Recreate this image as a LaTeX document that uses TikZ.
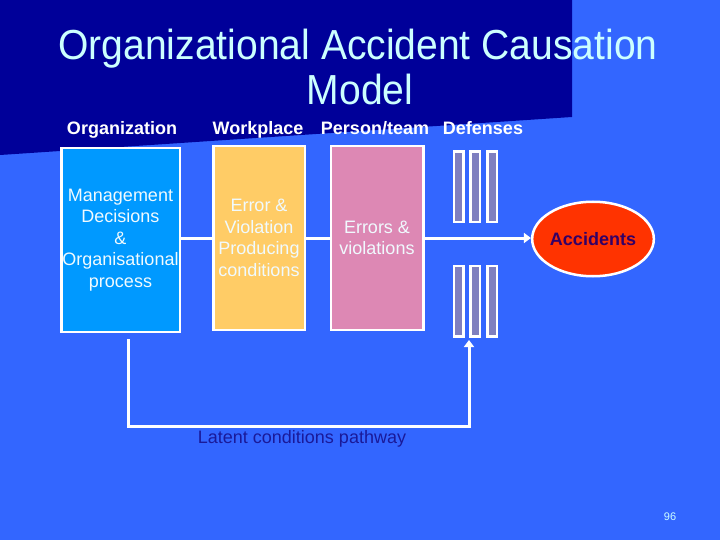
\documentclass[tikz,border=0pt]{standalone}
\usepackage{fontspec}
\setmainfont{Liberation Sans}
\usetikzlibrary{arrows.meta,shapes.geometric}
\definecolor{bgblue}{HTML}{3366FF}
\definecolor{navy}{HTML}{000099}
\definecolor{titlecol}{HTML}{CCFFFF}
\definecolor{orgblue}{HTML}{0099FF}
\definecolor{workorange}{HTML}{FFCC66}
\definecolor{perspink}{HTML}{DD88B4}
\definecolor{defcol}{HTML}{7F7FBF}
\definecolor{accred}{HTML}{FF3300}
\definecolor{acctext}{HTML}{330066}
\definecolor{latcol}{HTML}{1A1A99}
\tikzset{
  titletext/.style={anchor=base, text=titlecol, inner sep=0, font=\fontsize{42}{46}\selectfont},
  header/.style={anchor=base, text=white, inner sep=0, font=\bfseries\fontsize{18}{21.6}\selectfont},
  stagebox/.style={draw=white, line width=2.5pt, inner sep=0, align=center, text=white!94!cyan,
    font=\fontsize{18}{21.6}\selectfont, minimum height=183.5},
  defbar/.style={draw=white, line width=2.5pt, fill=defcol, inner sep=0, minimum width=9.5, minimum height=70.5},
  wline/.style={draw=white, line width=3pt},
  warrow/.style={wline, -{Triangle[width=10pt,length=7pt]}}
}
\begin{document}
\begin{tikzpicture}[x=1pt,y=-1pt]
\useasboundingbox (0,0) rectangle (720,540);
\fill[bgblue] (0,0) rectangle (720,540);
\fill[navy] (0,0) -- (572,0) -- (572,117) -- (0,155) -- cycle;
% title
\node[titletext] (title1) at (358,60) {\scalebox{0.93}[1]{Organizational Accident Causation}};
\node[titletext] (title2) at (360,105) {\scalebox{0.93}[1]{Model}};
% headers
\node[header] (h1) at (122,135) {Organization};
\node[header] (h2) at (258,135) {Workplace};
\node[header] (h3) at (375,135) {Person/team};
\node[header] (h4) at (483,135) {Defenses};
% boxes
\node[stagebox, fill=orgblue, minimum width=118.5] (org) at (120.5,240)
  {Management\\Decisions\\\&\\Organisational\\process};
\node[stagebox, fill=workorange, minimum width=91.5] (work) at (259,238)
  {Error \&\\Violation\\Producing\\conditions};
\node[stagebox, fill=perspink, minimum width=92.5] (pers) at (377,238)
  {Errors \&\\violations};
% defenses
\node[defbar] (d1) at (458.5,187) {};
\node[defbar] (d2) at (475,187) {};
\node[defbar] (d3) at (492,187) {};
\node[defbar] (d4) at (458.5,301) {};
\node[defbar] (d5) at (475,301) {};
\node[defbar] (d6) at (492,301) {};
% accidents
\node[ellipse, draw=white, line width=2.5pt, fill=accred, inner sep=0,
  minimum width=114.5, minimum height=74.5, text=acctext,
  font=\bfseries\fontsize{18}{21.6}\selectfont] (acc) at (593,239) {Accidents};
% connectors
\draw[wline] (org.east |- work.west) -- (work.west);
\draw[wline] (work.east) -- (pers.west);
\draw[warrow] (pers.east) -- (pers.east -| acc.west);
% latent pathway
\coordinate (ls) at (128,339);
\coordinate (le) at (469,340);
\draw[warrow] (ls) -- ++(0,87) -| (le);
\node[text=latcol, font=\fontsize{18}{21.6}\selectfont, inner sep=0] (lat) at (302,439) {Latent conditions pathway};
% page number
\node[text=titlecol, font=\fontsize{11}{13}\selectfont, inner sep=0] (pg) at (670,517) {96};
\end{tikzpicture}
\end{document}
